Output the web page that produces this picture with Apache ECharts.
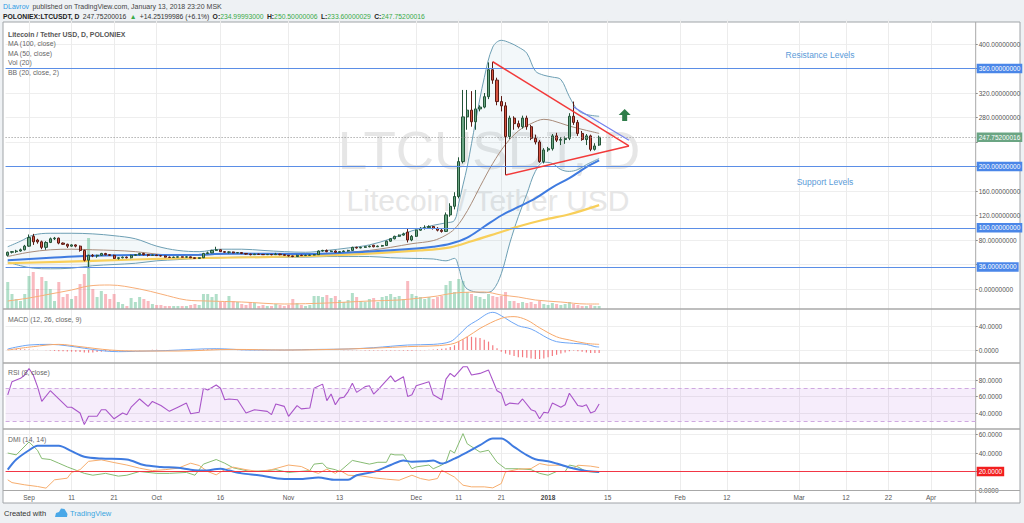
<!DOCTYPE html>
<html>
<head>
<meta charset="utf-8">
<script src="https://cdn.jsdelivr.net/npm/echarts@6/dist/echarts.min.js"></script>
<style>
  html, body { margin: 0; padding: 0; background: #eef1f4; }
  #chart { width: 1024px; height: 523px; }
</style>
</head>
<body>
<div id="chart"></div>
<script>
// daily axis, first day and number of days shown
const startDay = '2017-08-27';
const dayCount = 228;

// bottom axis labels
const tickLabels = [
  ['2017-09-01', 'Sep'], ['2017-09-11', '11'], ['2017-09-21', '21'], ['2017-10-01', 'Oct'],
  ['2017-10-16', '16'], ['2017-11-01', 'Nov'], ['2017-11-13', '13'], ['2017-12-01', 'Dec'],
  ['2017-12-11', '11'], ['2017-12-21', '21'], ['2018-01-01', '2018'], ['2018-01-15', '15'],
  ['2018-02-01', 'Feb'], ['2018-02-12', '12'], ['2018-03-01', 'Mar'], ['2018-03-12', '12'],
  ['2018-03-22', '22'], ['2018-04-01', 'Apr']
];

// candles from 2017-08-27: [open, close, low, high]
const candles = [
  [55,60,53,61],[60,61,58,62],[61,62,59,64],[62,64,61,66],[64,70,63,72],
  [70,84,69,89],[86,77,72,90],[80,77,74,82],[77,68,65,79],[68,76,64,78],
  [76,82,75,84],[82,83,80,85],[83,75,73,84],[75,73,72,76],[73,70,67,74],
  [70,72,69,73],[72,70,68,73],[70,63,61,71],[63,47,45,64],[47,55,34,56],
  [55,54,52,57],[54,55,51,56],[55,58,54,59],[58,56,55,59],[56,55,54,57],
  [55,50,49,56],[50,51,48,52],[51,52,50,53],[52,51,50,53],[51,55,50,56],
  [55,56,54,57],[56,58,55,59],[58,56,55,59],[56,55,53,57],[55,55.5,54,56],
  [55.5,54.5,54,56],[54.5,54,53,55.5],[54,52,51.5,54.5],[52,51.5,51,53],[51.5,52,51,53],
  [52,52.5,51.5,53],[52.5,52,51.5,53],[52,52.5,51,53.5],[52.5,51,50.5,53],[51,50,49.5,51.5],
  [50,51,49.5,51.5],[51,58,50.5,59],[58,59,57,61],[59,63,58.5,64],[63,64,62,69],
  [64,61,60.5,65],[61,60,59,62],[60,60.5,58,61.5],[60.5,59,58.5,61],[59,59.5,58.5,60],
  [59.5,58,57,60],[58,57,56,58.5],[57,56,55,57.5],[56,57,55.5,57.5],[57,56.5,56,57.5],
  [56.5,56,55.5,57],[56,56.5,55.5,57],[56.5,56,55,57],[56,57,55.5,59],[57,56,55,57.5],
  [56,55,54.5,56.5],[55,54,53,55.5],[54,53,52,54.5],[53,55,52.5,56],[55,54.5,54,56],
  [54.5,55,54,56],[55,55.5,54.5,56],[55.5,56,55,57],[56,62,55.5,63],[62,63,61,64],
  [63,61,60,64.5],[61,62,60.5,63],[62,60,59,63],[60,61,59.5,62],[61,62,60.5,63],
  [62,63,61,64],[63,68,62.5,69],[68,67,66,69],[67,68,66.5,69],[68,69,67,70],
  [69,70,68,71],[71.5,69,68,72],[69,70,68.5,71],[70,71,69,72],[71,78,70.5,79],
  [78,82,77,83],[82,86,81,87],[86,88,85,89],[88,90,87,92],[93,80,76,98],
  [80,86,78,88],[86,96,85,97],[96,99,95,101],[99,100,97,104],[100,102,98,104],
  [102,99,97,103],[99,96,94,101],[96,94,92,98],[94,121,93,125],[121,135,118,140],
  [135,151,130,158],[151,208,148,215],[208,281,205,325],[281,292,260,325],[292,273,265,323],
  [273,294,260,325],[294,297,290,300],[297,314,295,320],[314,358,310,370],[358,341,335,371],
  [341,306,300,345],[306,299,290,315],[299,249,186,305],[249,279,245,283],[279,270,260,282],
  [270,265,262,275],[265,279,262,283],[279,265,260,283],[265,246,243,268],[246,240,236,252],
  [240,208,206,243],[208,227,205,230],[227,229,224,232],[229,250,226,253],[250,243,240,255],
  [243,244,235,248],[244,246,237,249],[246,282,243,287],[282,272,268,306],[272,254,250,276],
  [254,244,242,258],[244,250,235,253],[250,228,225,252],[228,233.5,226,238],[235,247.752,233.6,250.5]
];

// volume, read as bar heights
const volumes = [
  27,15,10,8,15,33,37,20,32,28, 20,8,27,12,15,10,13,25,35,71,
  20,12,18,15,10,15,7,5,3,11, 7,12,10,8,5,4,4,3,3,3,
  3,3,3,4,5,4,15,15,12,15, 7,7,13,8,7,5,4,7,6,3,
  4,3,3,5,4,3,4,10,6,4, 3,4,13,13,12,14,11,13,9,7,
  9,16,12,8,7,10,11,7,12,13, 15,12,13,10,28,15,13,12,10,12,
  10,12,13,24,28,17,30,28,17,15, 13,12,10,15,13,12,13,17,8,8,
  6,7,6,7,5,8,5,4,6,5, 4,5,7,5,4,3,3,4,3,3
];
const volMa = [[0,8],[5,11],[10,15],[15,19],[19,23],[24,24],[31,20],[36,15],[42,9],[47,8],[55,7],
  [65,5],[75,6],[85,8],[92,9],[97,11],[101,13],[105,16],[112,17],[116,14],[120,12],[124,9],[130,7],[136,5],[139,5]];

// moving averages
const ma100 = [[0,42],[20,46],[40,50],[60,52],[80,56],[97,63],[104,68],[109,78],[115,91],[120,102],[126,113],[132,122],[139,137]];
const ma50 = [[0,47],[10,51],[18,54],[30,55.5],[45,56],[53,58],[69,57],[84,61],[96,66],[100,69],[104,74],[108,84],[112,102],[116,120],[120,134],[124,148],[128,166],[132,181],[136,199],[139,210]];

// Bollinger bands (20, 2)
const bbIdx = [0,3,6,10,15,20,25,30,35,40,45,50,55,60,65,70,75,80,85,90,95,100,103,105,106,107,108,110,112,114,116,118,120,122,124,126,128,130,132,134,136,139];
const bbUpper = [69,78,88,91,91,90,87,82,70,63,61,65,65,63,61,60,63,67,72,82,95,104,108,112,140,170,200,275,345,395,406,402,395,385,356,349,346,342,314,292,285,282];
const bbLower = [44,38,34,33,34,38,40,42,46,48,50,51,52,52,52,52,53,53,53,51,50,49,46,50,35,10,0,-5,-6,-2,25,75,118,155,192,207,205,195,192,195,203,213];
const bbMid = [[0,53],[5,60],[10,64],[15,65],[20,64],[25,63],[30,61],[35,57],[40,55],[45,55],[50,57],[55,58],[60,57],[65,56],[70,56],[75,57],[80,60],[85,63],[90,68],[95,74],[100,79],[103,88],[105,98],[107,116],[109,140],[111,167],[114,205],[117,236],[120,258],[123,270],[126,277],[128,275],[132,266],[136,259],[139,254]];

// MACD (12, 26, 9)
const macdLine = [[0,1.7],[5,8.3],[10,9.4],[14,7],[22,-1],[26,-2.8],[30,-2.2],[37,-1],[49,2.2],[57,0],[65,0],[73,1],[80,1.7],[86,3.9],[94,8.3],[100,9.4],[104,13.9],[106,25],[108,39],[110,48],[114,62.8],[115,61],[117,52.8],[120,40.5],[123,35],[127,19.4],[129,13.9],[133,11],[136,9.4],[138,5.6],[139,5]];
const macdSignal = [[0,0],[6,5.6],[12,9.4],[17,5.6],[24,0],[30,-1.7],[40,-1.7],[53,1],[65,0],[80,1.7],[94,5.6],[104,9.4],[108,22],[111,36],[116,52.8],[119,55.6],[122,50],[125,37],[129,22],[132,16.7],[136,11],[139,9.4]];
const macdHist = [
  1,1.2,1.5,1.4,1.2,1,0.6,0.3,0,-0.4, -0.8,-1.5,-2,-2.2,-2.5,-2.8,-3,-3.5,-4.2,-4.4,
  -4,-3.5,-3,-2.2,-1.6,-1.2,-1,-0.8,-0.6,-0.5, -0.4,-0.3,-0.2,0.2,0.3,0.3,0.2,0.2,0.1,0.2,
  0.2,0.3,0.3,0.3,0.2,0.4,1,1.2,1.2,1,0.7,0.5,0.3,0.1,-0.2,-0.4,-0.5,-0.6,-0.5,-0.4,
  -0.3,-0.3,-0.2,-0.2,-0.3,-0.4,-0.4,-0.3,-0.2,0,0.3,0.5,0.7,0.6,0.5,0.3,0.2,0,-0.2,-0.3,
  -0.3,-0.4,-0.5,-0.6,-0.7,-0.8,-0.8,-0.8,-0.8,-0.8, -0.8,-0.9,-1,-1,-1.2,-1.1,-0.8,-0.5,-0.3,0.4,
  1,1.5,2,3,5,8,14,18,22,22, 21,20,17,14,8,3,-3,-6,-8,-10,
  -12,-12,-13,-14,-15,-15,-14,-12,-10,-8, -6,-4,-2,-1,-2,-3,-4,-5,-5,-5
];

// RSI (8)
const rsi = [[0,62],[1,78],[3,82],[4,86],[5,94],[6,86],[7,72],[8,54],[10,67],[12,57],[14,47],[15,47],[17,40],[18,26],[19,36],[21,36],[22,44],[23,44],[25,33],[27,40],[28,38],[29,47],[31,57],[33,48],[34,54],[36,49],[38,42],[40,47],[42,52],[43,39],[45,41],[46,70],[47,68],[49,74],[50,70],[51,56],[52,57],[54,56],[56,40],[58,44],[61,42],[62,38],[63,51],[65,48],[66,36],[68,49],[69,45],[71,46],[72,70],[74,75],[75,55],[76,63],[77,50],[78,58],[79,59],[80,66],[81,76],[82,65],[84,72],[85,73],[86,63],[87,68],[90,85],[91,78],[93,84],[94,60],[95,62],[96,73],[99,78],[100,62],[102,56],[103,81],[104,88],[105,84],[107,96],[108,96],[109,86],[111,88],[113,92],[115,67],[116,64],[117,49],[118,52],[120,51],[121,57],[123,44],[124,42],[125,33],[126,41],[127,40],[128,52],[130,47],[131,50],[132,64],[134,49],[135,48],[136,50],[137,40],[138,42],[139,51]];

// DMI (14, 14)
const adx = [[0,22],[2,33],[5,43],[7,48],[12,48],[15,42],[18,36],[22,34],[28,33],[32,27],[36,25],[40,24],[43,22],[46,21],[50,23],[52,21],[55,18],[59,16],[65,12],[69,12],[73,13.5],[77,11],[80,11],[82,16],[86,19.6],[90,27],[93,32],[95,30.5],[98,31],[100,32],[102,28.6],[105,34],[108,41],[111,48.5],[114,55.7],[116,55.7],[119,46.7],[122,37.7],[124,33.3],[127,31],[129,28.6],[133,23.2],[136,20.7],[139,19.6]];
const plusDi = [[0,40],[2,38],[5,52],[7,43],[8,34],[10,33],[12,29],[14,25],[18,18],[20,16],[23,18],[26,15],[28,16],[31,20],[35,18],[38,18],[42,19],[44,16],[46,28],[49,33],[51,29],[53,24],[57,20],[61,21],[63,22],[66,19],[71,21],[72,28],[74,29],[75,24],[77,22],[78,20],[81,32],[83,30],[85,28],[87,30],[89,30],[90,39],[91,38],[93,38],[95,23],[96,25],[99,27],[100,23],[102,27],[103,30],[104,43],[105,40],[107,61],[108,50],[111,41],[113,43],[115,30],[117,23],[120,23],[123,22],[125,18],[127,16],[129,20],[131,20],[132,27],[134,25],[136,20],[139,19]];
const minusDi = [[0,11],[1,8],[4,5.6],[7,3.8],[9,2],[11,11],[14,12.8],[15,19],[17,22],[19,31],[22,32.6],[25,29.7],[28,27],[31,23.6],[34,21],[37,22],[40,23.6],[43,29],[45,26.5],[47,20],[49,16.4],[51,22],[53,24.7],[56,22],[59,20],[62,22],[66,27],[69,25.4],[71,21],[73,18],[75,22.5],[77,18],[78,21.4],[80,16],[83,15.3],[86,13.2],[89,11.7],[92,10.6],[95,16],[97,12.4],[99,10.6],[101,12.4],[102,21.4],[105,14],[107,5.2],[109,3.4],[112,3.4],[114,2.3],[116,7],[117,19.6],[120,22.5],[123,23.2],[125,28.6],[127,26.8],[130,26.8],[133,23.2],[134,26.8],[137,25.8],[139,24.3]];

// drawn levels and shapes
const resistanceLevels = [360, 200, 100, 36];
const lastPrice = 247.75200016;
const triangleTop = [[114, 371], [146, 233.5]];
const triangleBottom = [[117, 186], [146, 233.5]];
const parallelLine = [[133, 297], [146, 243]];
const arrowAt = [145, 284];
const coveredPriceTicks = [40, 240];   // hidden under the level / last price boxes

// ---- build ----
const dates = [];
const t0 = Date.parse(startDay + 'T00:00:00Z');
for (let k = 0; k < dayCount; k++) dates.push(new Date(t0 + k * 86400000).toISOString().slice(0, 10));
const labelAt = {};
tickLabels.forEach(([d, s]) => { labelAt[d] = s; });
const onTick = (idx, val) => labelAt[val] !== undefined;

const bbLowerPts = bbIdx.map((i, k) => [i, bbLower[k]]);
const bbBandPts = bbIdx.map((i, k) => [i, bbUpper[k] - bbLower[k]]);
const volBars = volumes.map((v, i) => ({
  value: v,
  itemStyle: { color: candles[i][1] >= candles[i][0] ? 'rgba(83,185,135,0.45)' : 'rgba(240,90,105,0.42)' }
}));

const FONT = 'Liberation Sans';
const L = 5.6, R = 48.3;
const grids = [
  { left: L, right: R, top: 19.5, height: 294 },   // price
  { left: L, right: R, top: 230, height: 79 },     // volume
  { left: L, right: R, top: 302, height: 72 },     // macd
  { left: L, right: R, top: 363.5, height: 66 },   // rsi
  { left: L, right: R, top: 429, height: 61 }      // dmi
];

function xAx(g) {
  return {
    type: 'category', gridIndex: g, data: dates, boundaryGap: true,
    axisLine: { show: false },
    axisTick: { show: false, alignWithLabel: true },
    axisLabel: g === 4 ? {
      show: true, interval: onTick, fontSize: 6.5, color: '#555', margin: 4, fontFamily: FONT,
      formatter: v => labelAt[v] === '2018' ? '{b|2018}' : (labelAt[v] || ''),
      rich: { b: { fontWeight: 'bold', fontSize: 6.5, color: '#444', fontFamily: FONT } }
    } : { show: false },
    splitLine: { show: g !== 1, interval: onTick, alignWithLabel: true, lineStyle: { color: '#ececec', width: 1 } }
  };
}
function yAx(g, min, max, interval, digits, showMin, hide) {
  return {
    type: 'value', gridIndex: g, position: 'right', min, max, interval,
    axisLine: { show: false },
    axisTick: { show: true, length: 2, lineStyle: { color: '#888' } },
    axisLabel: { fontSize: 6.5, color: '#555', margin: 3, fontFamily: FONT, showMinLabel: !!showMin, showMaxLabel: false,
      formatter: v => (hide && hide.includes(v)) ? '' : v.toFixed(digits) },
    splitLine: { show: true, showMinLine: false, showMaxLine: false, lineStyle: { color: '#eeeeee' } }
  };
}

const boxLabel = (text, bg) => ({
  show: true, position: 'end', formatter: text, color: '#fff', backgroundColor: bg,
  padding: [1.5, 2, 1, 2], fontSize: 6.5, distance: 1, fontFamily: FONT
});

const levelLines = resistanceLevels.map(v => ({
  yAxis: v, lineStyle: { color: '#5b8ee6', width: 1, type: 'solid' },
  label: boxLabel(v.toFixed(8), '#4a86e8')
}));

const option = {
  backgroundColor: '#eef1f4',
  animation: false,
  grid: grids,
  xAxis: [0, 1, 2, 3, 4].map(xAx),
  yAxis: [
    yAx(0, -40, 440, 40, 8, false, coveredPriceTicks),
    { type: 'value', gridIndex: 1, min: 0, max: 79, show: false },
    yAx(2, -40, 80, 40, 4),
    yAx(3, 20, 100, 20, 4),
    yAx(4, 0, 66, 20, 4, true, [20])
  ],
  series: [
    {
      name: 'bbBase', type: 'line', xAxisIndex: 0, yAxisIndex: 0, data: bbLowerPts, stack: 'bb', stackStrategy: 'all',
      smooth: 0.35, symbol: 'none', lineStyle: { color: '#6d9fb4', width: 1 }, z: 1
    },
    {
      name: 'bbBand', type: 'line', xAxisIndex: 0, yAxisIndex: 0, data: bbBandPts, stack: 'bb', stackStrategy: 'all',
      smooth: 0.35, symbol: 'none', lineStyle: { color: '#6d9fb4', width: 1 },
      areaStyle: { color: 'rgba(120,180,195,0.13)' }, z: 1
    },
    { name: 'bbMid', type: 'line', xAxisIndex: 0, yAxisIndex: 0, data: bbMid, smooth: 0.35, symbol: 'none',
      lineStyle: { color: '#a98c7a', width: 1 }, z: 2 },
    { name: 'ma100', type: 'line', xAxisIndex: 0, yAxisIndex: 0, data: ma100, smooth: 0.35, symbol: 'none',
      lineStyle: { color: '#f8cf5a', width: 2.2 }, z: 2 },
    { name: 'ma50', type: 'line', xAxisIndex: 0, yAxisIndex: 0, data: ma50, smooth: 0.35, symbol: 'none',
      lineStyle: { color: '#3f7be0', width: 2 }, z: 2 },
    {
      name: 'vol', type: 'bar', xAxisIndex: 1, yAxisIndex: 1, data: volBars, barWidth: 3, z: 1
    },
    { name: 'volMa', type: 'line', xAxisIndex: 1, yAxisIndex: 1, data: volMa, smooth: 0.35, symbol: 'none',
      lineStyle: { color: '#f7ae78', width: 1 }, z: 2 },
    {
      name: 'price', type: 'candlestick', xAxisIndex: 0, yAxisIndex: 0, data: candles, barWidth: 2.6, z: 3,
      itemStyle: { color: '#6ba583', color0: '#d75442', borderColor: '#225437', borderColor0: '#5b1a13', borderWidth: 1 },
      markLine: {
        silent: true, symbol: ['none', 'none'], animation: false,
        label: { show: false },
        data: levelLines.concat([
          { yAxis: lastPrice, lineStyle: { color: '#8c8c8c', width: 1, type: [1, 2] },
            label: boxLabel(lastPrice.toFixed(8), '#6ba583') },
          [{ coord: triangleTop[0], lineStyle: { color: '#f23a3a', width: 1.5, type: 'solid' } }, { coord: triangleTop[1] }],
          [{ coord: triangleBottom[0], lineStyle: { color: '#f23a3a', width: 1.5, type: 'solid' } }, { coord: triangleBottom[1] }],
          [{ coord: parallelLine[0], lineStyle: { color: '#7482ee', width: 1.2, type: 'solid' } }, { coord: parallelLine[1] }]
        ])
      },
      markPoint: {
        silent: true, animation: false,
        data: [{ coord: arrowAt, symbol: 'path://M6,0 L12,6 L8.5,6 L8.5,12 L3.5,12 L3.5,6 L0,6 Z', symbolSize: [12, 12],
          itemStyle: { color: '#2f7d4a' }, label: { show: false } }]
      }
    },
    { name: 'hist', type: 'bar', xAxisIndex: 2, yAxisIndex: 2, data: macdHist, barWidth: 1.2,
      itemStyle: { color: '#f47a80' } },
    { name: 'macd', type: 'line', xAxisIndex: 2, yAxisIndex: 2, data: macdLine, smooth: 0.35, symbol: 'none',
      lineStyle: { color: '#6ea6f5', width: 1 } },
    { name: 'signal', type: 'line', xAxisIndex: 2, yAxisIndex: 2, data: macdSignal, smooth: 0.35, symbol: 'none',
      lineStyle: { color: '#f7a86a', width: 1 } },
    {
      name: 'rsi', type: 'line', xAxisIndex: 3, yAxisIndex: 3, data: rsi, symbol: 'none',
      lineStyle: { color: '#a955c9', width: 1.1 },
      markArea: { silent: true, itemStyle: { color: 'rgba(170,90,220,0.11)' }, data: [[{ yAxis: 30 }, { yAxis: 70 }]] },
      markLine: { silent: true, symbol: ['none', 'none'], label: { show: false },
        lineStyle: { color: '#cfa9e0', type: [4, 3], width: 1 }, data: [{ yAxis: 70 }, { yAxis: 30 }] }
    },
    { name: 'plusDi', type: 'line', xAxisIndex: 4, yAxisIndex: 4, data: plusDi, symbol: 'none',
      lineStyle: { color: '#86bb72', width: 1 } },
    { name: 'minusDi', type: 'line', xAxisIndex: 4, yAxisIndex: 4, data: minusDi, symbol: 'none',
      lineStyle: { color: '#f6ad6d', width: 1 } },
    {
      name: 'adx', type: 'line', xAxisIndex: 4, yAxisIndex: 4, data: adx, smooth: 0.3, symbol: 'none',
      lineStyle: { color: '#3f7be0', width: 2 },
      markLine: { silent: true, symbol: ['none', 'none'],
        data: [{ yAxis: 20, lineStyle: { color: '#f23645', width: 1, type: 'solid' }, label: boxLabel('20.0000', '#f21f1f') }] }
    }
  ],
  graphic: [
    // chart panel
    { type: 'rect', z: -5, shape: { x: 3, y: 22, width: 1017, height: 481 }, style: { fill: '#ffffff', stroke: '#a0a4a8', lineWidth: 1 } },
    // pane separators and axis frame
    { type: 'line', z: 5, shape: { x1: 3, y1: 309, x2: 1020, y2: 309 }, style: { stroke: '#a8a8a8', lineWidth: 1.5 } },
    { type: 'line', z: 5, shape: { x1: 3, y1: 363, x2: 1020, y2: 363 }, style: { stroke: '#a8a8a8', lineWidth: 1.5 } },
    { type: 'line', z: 5, shape: { x1: 3, y1: 429, x2: 1020, y2: 429 }, style: { stroke: '#a8a8a8', lineWidth: 1.5 } },
    { type: 'line', z: 5, shape: { x1: 3, y1: 490.5, x2: 1020, y2: 490.5 }, style: { stroke: '#a8a8a8', lineWidth: 1 } },
    { type: 'line', z: 5, shape: { x1: 975.7, y1: 22, x2: 975.7, y2: 503 }, style: { stroke: '#a8a8a8', lineWidth: 1 } },
    // watermark
    { type: 'text', z: 1, x: 489, y: 150, style: { text: 'LTCUSDT, D', fontFamily: FONT, fontSize: 53, fill: '#e6e6e6', align: 'center', verticalAlign: 'middle' } },
    { type: 'text', z: 1, x: 488, y: 200, style: { text: 'Litecoin / Tether USD', fontFamily: FONT, fontSize: 30, fill: '#e6e6e6', align: 'center', verticalAlign: 'middle' } },
    // level notes
    { type: 'text', z: 6, x: 820, y: 55, style: { text: 'Resistance Levels', fontFamily: FONT, fontSize: 8.5, fill: '#5b9bd8', align: 'center', verticalAlign: 'middle' } },
    { type: 'text', z: 6, x: 825, y: 182, style: { text: 'Support Levels', fontFamily: FONT, fontSize: 8.5, fill: '#5b9bd8', align: 'center', verticalAlign: 'middle' } },
    // pane legends
    { type: 'text', z: 6, x: 8, y: 34, style: { text: 'Litecoin / Tether USD, D, POLONIEX', fontFamily: FONT, fontSize: 6.9, fontWeight: 'bold', fill: '#555', verticalAlign: 'middle' } },
    { type: 'text', z: 6, x: 8, y: 43.5, style: { text: 'MA (100, close)', fontFamily: FONT, fontSize: 6.9, fill: '#666', verticalAlign: 'middle' } },
    { type: 'text', z: 6, x: 8, y: 53, style: { text: 'MA (50, close)', fontFamily: FONT, fontSize: 6.9, fill: '#666', verticalAlign: 'middle' } },
    { type: 'text', z: 6, x: 8, y: 62.5, style: { text: 'Vol (20)', fontFamily: FONT, fontSize: 6.9, fill: '#666', verticalAlign: 'middle' } },
    { type: 'text', z: 6, x: 8, y: 72, style: { text: 'BB (20, close, 2)', fontFamily: FONT, fontSize: 6.9, fill: '#666', verticalAlign: 'middle' } },
    { type: 'text', z: 6, x: 8, y: 319, style: { text: 'MACD (12, 26, close, 9)', fontFamily: FONT, fontSize: 6.9, fill: '#666', verticalAlign: 'middle' } },
    { type: 'text', z: 6, x: 8, y: 372.5, style: { text: 'RSI (8, close)', fontFamily: FONT, fontSize: 6.9, fill: '#666', verticalAlign: 'middle' } },
    { type: 'text', z: 6, x: 8, y: 439, style: { text: 'DMI (14, 14)', fontFamily: FONT, fontSize: 6.9, fill: '#666', verticalAlign: 'middle' } },
    // header
    { type: 'text', z: 6, x: 3, y: 6.5, style: {
      text: '{a|DLavrov} {t|published on TradingView.com, January 13, 2018 23:20 MSK}', verticalAlign: 'middle',
      rich: { a: { fill: '#2e9be6', fontSize: 7, fontFamily: FONT }, t: { fill: '#444', fontSize: 7, fontFamily: FONT } } } },
    { type: 'text', z: 6, x: 3, y: 16.5, style: {
      text: '{b|POLONIEX:LTCUSDT, D} {n|247.75200016} {g|▲} {n|+14.25199986 (+6.1%)} {b|O:}{g|234.99993000} {b|H:}{g|250.50000006} {b|L:}{g|233.60000029} {b|C:}{g|247.75200016}',
      verticalAlign: 'middle',
      rich: {
        b: { fill: '#222', fontSize: 6.8, fontWeight: 'bold', fontFamily: FONT },
        n: { fill: '#333', fontSize: 6.8, fontFamily: FONT },
        g: { fill: '#3aaa48', fontSize: 6.8, fontFamily: FONT }
      } } },
    // footer
    { type: 'text', z: 6, x: 4, y: 513.5, style: { text: 'Created with', fontFamily: FONT, fontSize: 7.5, fill: '#333', verticalAlign: 'middle' } },
    { type: 'polygon', z: 6, shape: { points: [[55,517],[56,513],[59,512],[61,508.5],[64.5,509],[66,511.5],[67.5,514],[67,517]] },
      style: { fill: '#4aa8e8' } },
    { type: 'text', z: 6, x: 70, y: 513.5, style: { text: 'TradingView', fontFamily: FONT, fontSize: 7.5, fill: '#3aa5e0', verticalAlign: 'middle' } }
  ]
};

const chart = echarts.init(document.getElementById('chart'), null, { renderer: 'svg', width: 1024, height: 523 });
chart.setOption(option);
</script>
</body>
</html>
